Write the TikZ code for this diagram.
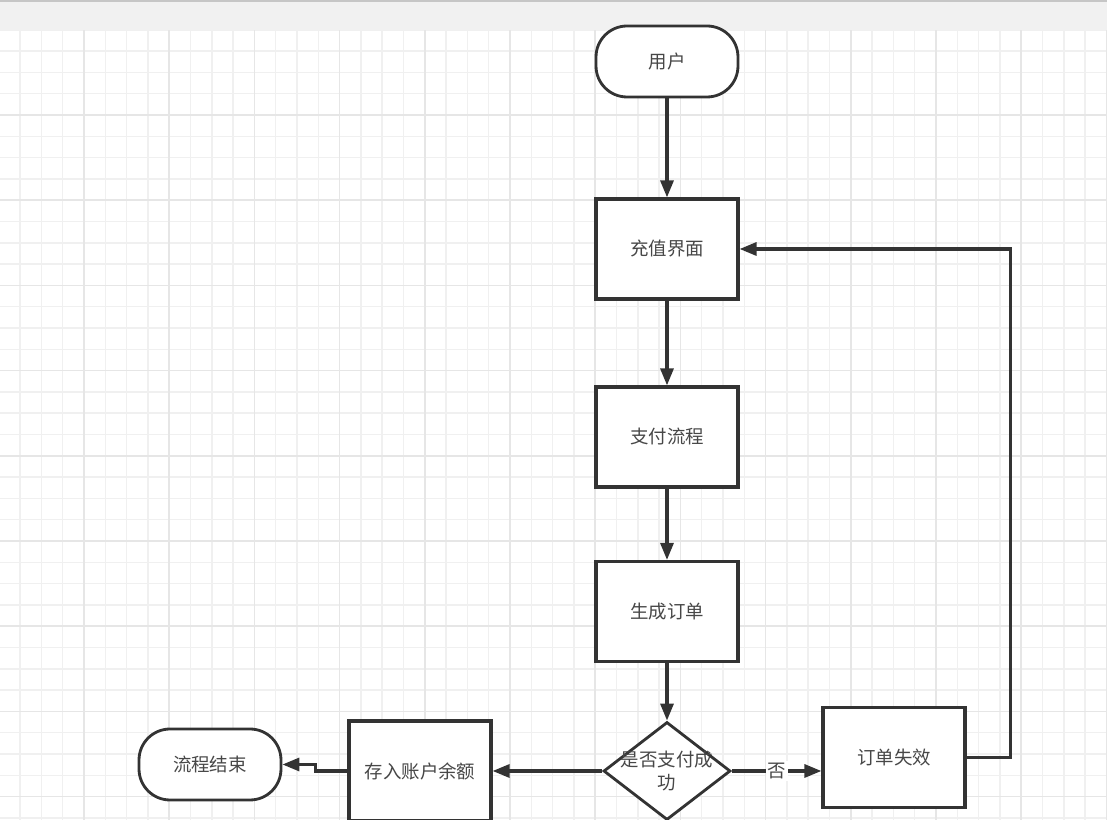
\documentclass[tikz,border=0pt]{standalone}
\usepackage{fontspec}
\newfontfamily\cjk{Noto Sans CJK SC}
\usetikzlibrary{arrows.meta}
\usetikzlibrary{shapes.geometric}
\definecolor{ink}{HTML}{333333}
\definecolor{gridminor}{HTML}{F0F0F0}
\definecolor{gridmajor}{HTML}{E6E6E6}
\definecolor{barfill}{HTML}{F1F1F1}

\begin{document}
\begin{tikzpicture}[x=0.02cm, y=-0.02cm,
    every node/.style={font=\cjk\fontsize{10.5}{13}\selectfont, text=ink!90},
    box/.style={rectangle, draw=ink, line width=1.8pt, fill=white, minimum width=2.84cm, minimum height=2cm, inner sep=0pt},
    term/.style={rectangle, rounded corners=0.62cm, draw=ink, line width=1.6pt, fill=white, minimum width=2.84cm, minimum height=1.42cm, inner sep=0pt},
    decision/.style={diamond, draw=ink, line width=1.6pt, fill=white, minimum width=2.54cm, minimum height=1.96cm, inner sep=0pt},
    flow/.style={draw=ink, line width=1.8pt, -{Triangle[length=0.34cm, width=0.26cm]}}]

  \useasboundingbox (0,0) rectangle (1107,820);
  \clip (0,0) rectangle (1107,820);

  \def\cell{21.3} % grid step
  \def\gx{84} % first major line
  \def\gy{115}

  % canvas grid
  \foreach \k in {-4,...,48} {
    \draw[gridminor, line width=0.9pt] ({\gx+\cell*\k},30) -- ({\gx+\cell*\k},820);
  }
  \foreach \k in {-4,...,33} {
    \draw[gridminor, line width=0.9pt] (0,{\gy+\cell*\k}) -- (1107,{\gy+\cell*\k});
  }
  \foreach \k in {-1,...,12} {
    \draw[gridmajor, line width=0.9pt] ({\gx+4*\cell*\k},30) -- ({\gx+4*\cell*\k},820);
  }
  \foreach \k in {0,...,8} {
    \draw[gridmajor, line width=0.9pt] (0,{\gy+4*\cell*\k}) -- (1107,{\gy+4*\cell*\k});
  }
  \fill[barfill] (0,0) rectangle (1107,30);
  \draw[gray!45, line width=1pt] (0,1) -- (1107,1);

  \node[term] (user) at (667,61.5) {用户};
  \node[box] (recharge) at (667,249) {充值界面};
  \node[box] (pay) at (667,437) {支付流程};
  \node[box] (order) at (667,611.5) {生成订单};
  \node[decision, label={[align=center]center:是否支付成\\功}] (check) at (667,771) {};
  \node[box] (fail) at (894,757.5) {订单失效};
  \node[box] (store) at (420,771) {存入账户余额};
  \node[term] (finish) at (210,764.5) {流程结束};

  \draw[flow] (user) -- (recharge);
  \draw[flow] (recharge) -- (pay);
  \draw[flow] (pay) -- (order);
  \draw[flow] (order) -- (check);
  \draw[flow] (check.east) -- node[fill=white, inner sep=1pt] {否} (check.east -| fail.west);
  \draw[flow] (check.west) -- (store.east);
  \draw[flow] (store.west) -- ++(-32,0) |- (finish.east);
  \draw[flow] (fail.east) -- ++(44,0) |- (recharge.east);

\end{tikzpicture}
\end{document}
